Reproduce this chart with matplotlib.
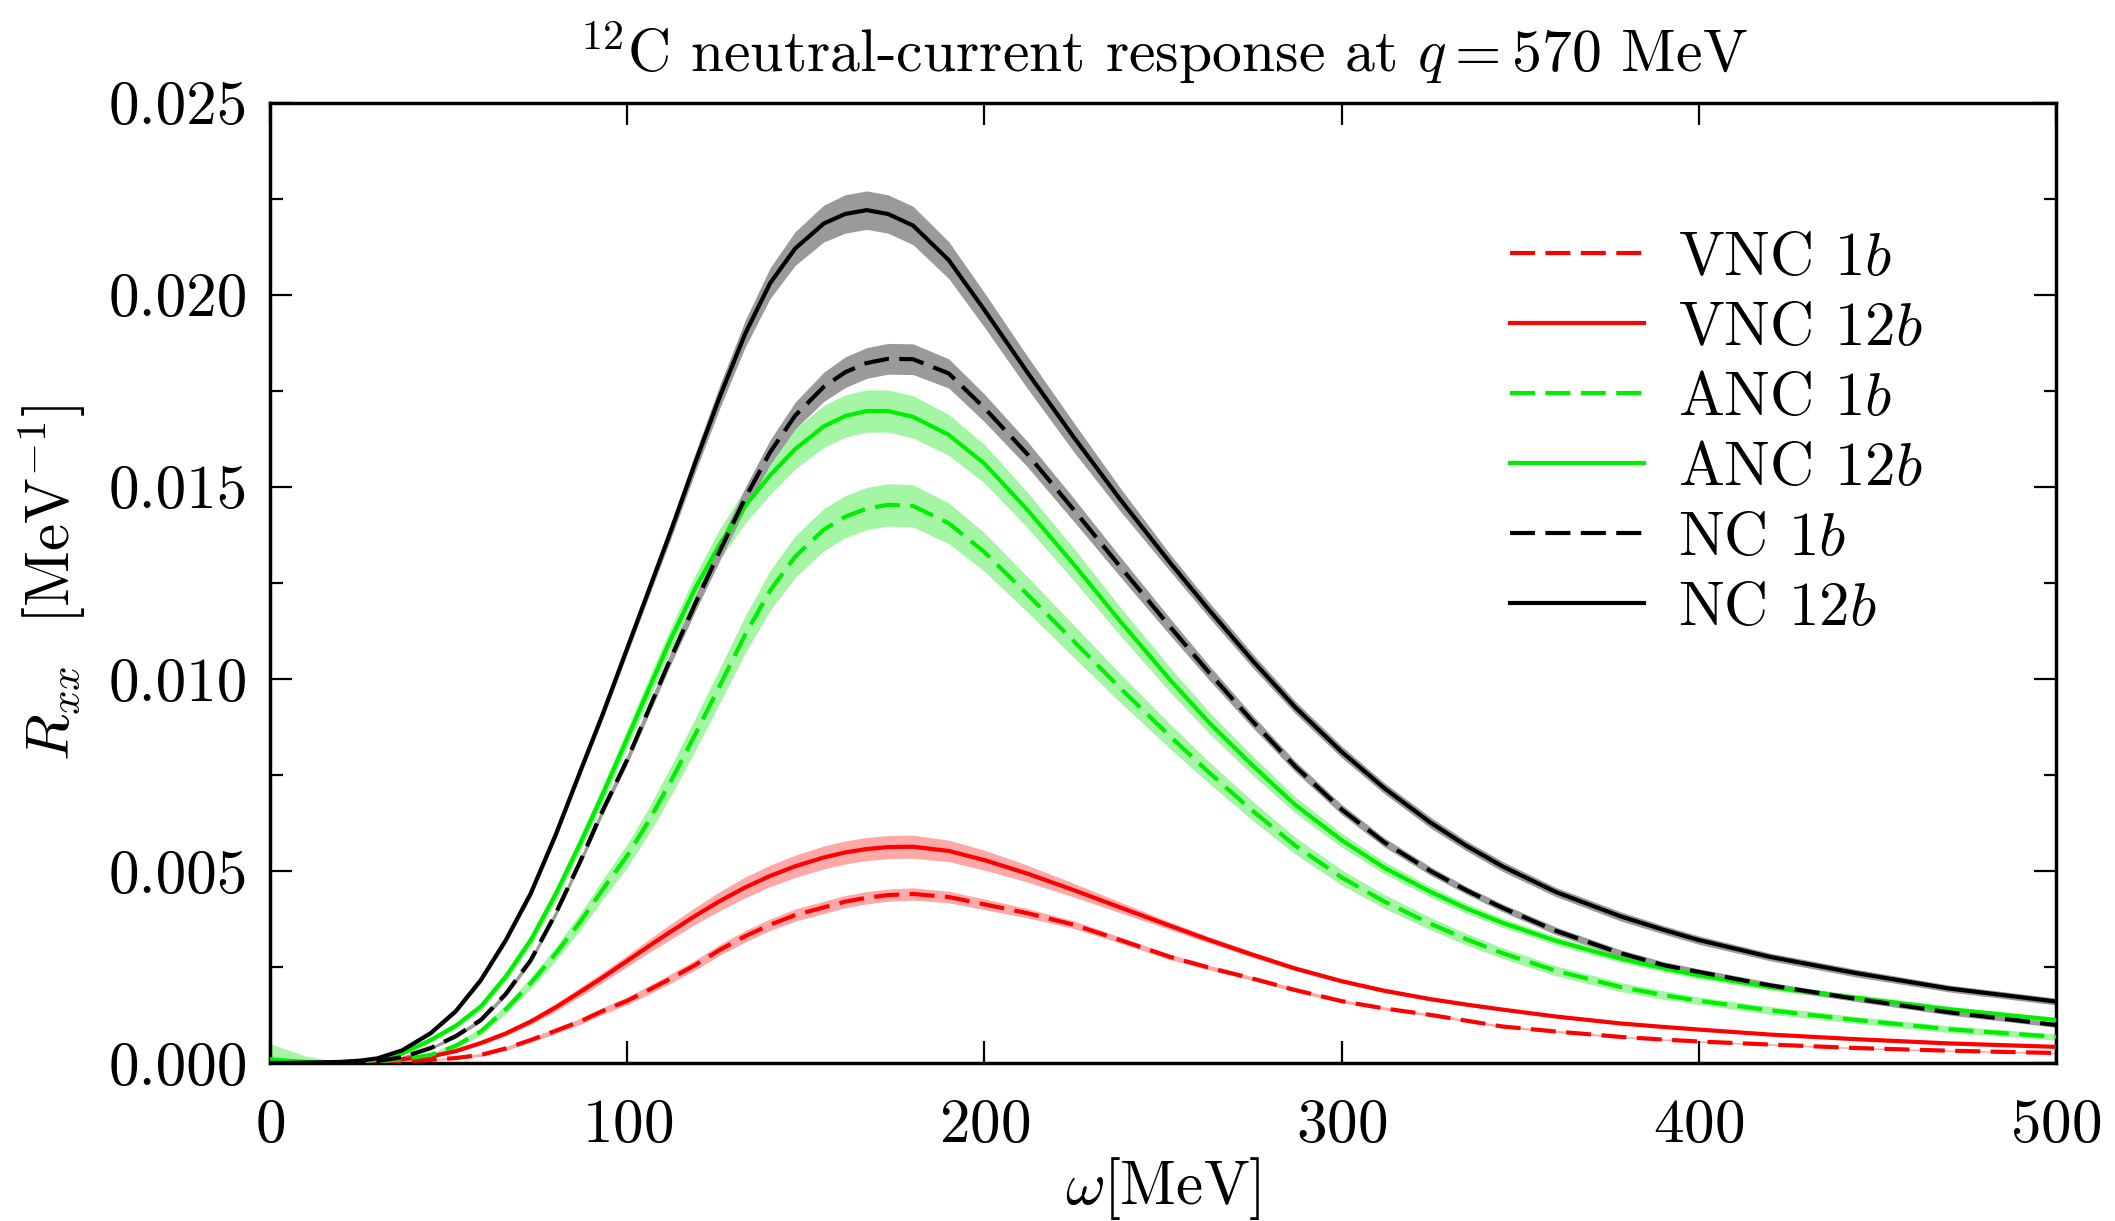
import numpy as np
import matplotlib
matplotlib.use('Agg')
import matplotlib.pyplot as plt
from matplotlib.ticker import MultipleLocator, FormatStrFormatter

plt.rcParams['font.family'] = 'serif'
plt.rcParams['font.serif'] = ['cmr10']
plt.rcParams['mathtext.fontset'] = 'cm'
plt.rcParams['axes.formatter.use_mathtext'] = True

# energy transfer grid [MeV]
omega = [0, 5, 10, 15, 20, 25, 30, 37, 45, 52,
         59, 66, 73, 80, 87, 93, 100, 106, 112, 119,
         126, 133, 140, 147, 155, 161, 167, 173, 180, 190,
         200, 212, 225, 238, 252, 263, 275, 287, 300, 312,
         325, 335, 345, 360, 378, 390, 400, 420, 444, 470,
         500]

# responses, in units of 1e-3 MeV^-1
nc_12b = [0.0, 0.0, 0.01, 0.015, 0.03, 0.06, 0.12, 0.33, 0.78, 1.35,
          2.16, 3.2, 4.42, 5.95, 7.63, 9.05, 10.8, 12.3, 13.8, 15.62,
          17.37, 18.98, 20.3, 21.2, 21.85, 22.1, 22.2, 22.1, 21.8, 20.9,
          19.6, 17.98, 16.29, 14.67, 13.02, 11.78, 10.48, 9.26, 8.1, 7.15,
          6.25, 5.65, 5.12, 4.45, 3.82, 3.47, 3.2, 2.76, 2.34, 1.94,
          1.60]
nc_1b = [0.0, 0.0, 0.0, 0.005, 0.01, 0.025, 0.05, 0.15, 0.39, 0.7,
         1.12, 1.8, 2.68, 3.9, 5.28, 6.55, 7.9, 9.2, 10.5, 11.95,
         13.35, 14.7, 15.9, 16.85, 17.6, 17.98, 18.22, 18.33, 18.32, 17.95,
         17.05, 15.85, 14.4, 12.92, 11.35, 10.15, 8.9, 7.72, 6.6, 5.74,
         4.99, 4.49, 4.04, 3.44, 2.86, 2.55, 2.37, 2.02, 1.67, 1.32,
         0.99]
anc_12b = [0.1, 0.06, 0.03, 0.02, 0.02, 0.04, 0.08, 0.25, 0.60, 0.97,
           1.47, 2.25, 3.2, 4.4, 5.75, 6.97, 8.45, 9.73, 11.0, 12.35,
           13.52, 14.5, 15.3, 15.98, 16.57, 16.84, 16.97, 16.97, 16.82, 16.35,
           15.6, 14.4, 12.98, 11.5, 9.97, 8.85, 7.75, 6.72, 5.8, 5.08,
           4.45, 4.02, 3.65, 3.18, 2.72, 2.47, 2.28, 1.98, 1.7, 1.4,
           1.12]
anc_1b = [0.0, 0.0, 0.0, 0.005, 0.01, 0.02, 0.04, 0.1, 0.21, 0.45,
          0.82, 1.4, 2.08, 2.85, 3.7, 4.5, 5.4, 6.3, 7.3, 8.55,
          9.84, 11.15, 12.3, 13.18, 13.88, 14.22, 14.43, 14.53, 14.5, 14.05,
          13.3, 12.2, 10.98, 9.76, 8.5, 7.55, 6.57, 5.66, 4.83, 4.2,
          3.62, 3.22, 2.86, 2.4, 1.98, 1.77, 1.62, 1.37, 1.12, 0.88,
          0.68]
vnc_12b = [0.0, 0.0, 0.0, 0.01, 0.02, 0.04, 0.06, 0.1, 0.17, 0.31,
           0.52, 0.77, 1.08, 1.45, 1.86, 2.22, 2.66, 3.04, 3.41, 3.83,
           4.22, 4.57, 4.87, 5.12, 5.35, 5.48, 5.57, 5.62, 5.63, 5.52,
           5.28, 4.93, 4.5, 4.05, 3.57, 3.2, 2.82, 2.46, 2.13, 1.88,
           1.66, 1.52, 1.39, 1.21, 1.03, 0.94, 0.87, 0.74, 0.62, 0.51,
           0.42]
vnc_1b = [0.0, 0.0, 0.0, 0.005, 0.01, 0.02, 0.03, 0.05, 0.08, 0.13,
          0.21, 0.38, 0.60, 0.84, 1.09, 1.35, 1.62, 1.9, 2.19, 2.55,
          2.95, 3.3, 3.6, 3.85, 4.05, 4.2, 4.3, 4.37, 4.4, 4.32,
          4.13, 3.9, 3.6, 3.2, 2.76, 2.48, 2.2, 1.9, 1.61, 1.42,
          1.25, 1.1, 0.95, 0.82, 0.68, 0.61, 0.56, 0.48, 0.39, 0.32,
          0.26]

# half-widths of the uncertainty bands, same units
nc_12b_err = [0, 0, 0, 0, 0, 0.01, 0.02, 0.03, 0.05, 0.06,
              0.08, 0.09, 0.1, 0.11, 0.12, 0.13, 0.15, 0.17, 0.2, 0.25,
              0.3, 0.35, 0.4, 0.44, 0.48, 0.5, 0.5, 0.5, 0.5, 0.48,
              0.45, 0.42, 0.38, 0.3, 0.22, 0.2, 0.18, 0.16, 0.15, 0.14,
              0.14, 0.13, 0.13, 0.12, 0.12, 0.11, 0.11, 0.1, 0.1, 0.09,
              0.09]
nc_1b_err = [0, 0, 0, 0, 0, 0.01, 0.02, 0.03, 0.04, 0.05,
             0.06, 0.07, 0.08, 0.09, 0.1, 0.11, 0.12, 0.14, 0.16, 0.2,
             0.25, 0.28, 0.32, 0.35, 0.38, 0.4, 0.4, 0.4, 0.4, 0.38,
             0.36, 0.33, 0.3, 0.26, 0.22, 0.19, 0.16, 0.14, 0.13, 0.12,
             0.11, 0.1, 0.1, 0.1, 0.09, 0.09, 0.08, 0.08, 0.07, 0.07,
             0.06]
anc_12b_err = [0.4, 0.28, 0.15, 0.08, 0.05, 0.04, 0.04, 0.05, 0.06, 0.08,
               0.1, 0.12, 0.15, 0.18, 0.2, 0.22, 0.25, 0.28, 0.3, 0.35,
               0.4, 0.45, 0.5, 0.52, 0.55, 0.55, 0.55, 0.55, 0.55, 0.53,
               0.5, 0.46, 0.42, 0.37, 0.32, 0.28, 0.25, 0.21, 0.18, 0.16,
               0.14, 0.13, 0.12, 0.11, 0.1, 0.1, 0.09, 0.09, 0.08, 0.08,
               0.07]
anc_1b_err = [0, 0, 0, 0, 0, 0.01, 0.02, 0.03, 0.05, 0.07,
              0.1, 0.12, 0.15, 0.18, 0.22, 0.26, 0.3, 0.34, 0.38, 0.42,
              0.45, 0.48, 0.52, 0.54, 0.55, 0.55, 0.55, 0.55, 0.55, 0.53,
              0.5, 0.46, 0.42, 0.37, 0.32, 0.28, 0.25, 0.22, 0.2, 0.18,
              0.16, 0.15, 0.14, 0.13, 0.12, 0.11, 0.1, 0.1, 0.09, 0.09,
              0.08]
vnc_12b_err = [0, 0, 0, 0, 0, 0.01, 0.01, 0.02, 0.03, 0.04,
               0.05, 0.06, 0.08, 0.1, 0.12, 0.13, 0.15, 0.17, 0.2, 0.22,
               0.25, 0.27, 0.28, 0.29, 0.3, 0.3, 0.3, 0.3, 0.3, 0.28,
               0.26, 0.22, 0.18, 0.14, 0.1, 0.08, 0.07, 0.06, 0.05, 0.05,
               0.04, 0.04, 0.03, 0.03, 0.03, 0.03, 0.02, 0.02, 0.02, 0.02,
               0.02]
vnc_1b_err = [0, 0, 0, 0, 0, 0.01, 0.01, 0.01, 0.02, 0.03,
              0.04, 0.05, 0.06, 0.07, 0.08, 0.09, 0.1, 0.11, 0.12, 0.13,
              0.14, 0.15, 0.15, 0.16, 0.16, 0.16, 0.16, 0.16, 0.16, 0.15,
              0.14, 0.12, 0.1, 0.08, 0.07, 0.06, 0.05, 0.05, 0.04, 0.04,
              0.03, 0.03, 0.03, 0.03, 0.02, 0.02, 0.02, 0.02, 0.02, 0.02,
              0.02]

labels = [r'VNC 1$b$', r'VNC 12$b$', r'ANC 1$b$', r'ANC 12$b$', r'NC 1$b$', r'NC 12$b$']
values = [vnc_1b, vnc_12b, anc_1b, anc_12b, nc_1b, nc_12b]
errors = [vnc_1b_err, vnc_12b_err, anc_1b_err, anc_12b_err, nc_1b_err, nc_12b_err]
line_colors = ['#ff0000', '#ff0000', '#00ee00', '#00ee00', 'black', 'black']
band_colors = ['#ffa8a8', '#ffa8a8', '#a4f5a4', '#a4f5a4', '#9a9a9a', '#9a9a9a']
dashed = [True, False, True, False, True, False]

w = np.array(omega)

fig = plt.figure(figsize=(21.15, 12.21), dpi=100)
ax = fig.add_axes([0.1277, 0.1294, 0.8444, 0.7866])

for y, e, c in zip(values, errors, band_colors):
    y = np.array(y) * 1e-3
    e = np.array(e) * 1e-3
    ax.fill_between(w, y - e, y + e, color=c, lw=0, zorder=1)

for y, c, lab, d in zip(values, line_colors, labels, dashed):
    y = np.array(y) * 1e-3
    ls = (0, (6.0, 2.5)) if d else '-'
    ax.plot(w, y, color=c, lw=3.0, ls=ls, label=lab, zorder=3,
            solid_joinstyle='round', dash_joinstyle='round')

ax.set_xlim(0, 500)
ax.set_ylim(0, 0.025)
ax.xaxis.set_major_locator(MultipleLocator(100))
ax.yaxis.set_major_locator(MultipleLocator(0.005))
ax.yaxis.set_minor_locator(MultipleLocator(0.0025))
ax.yaxis.set_major_formatter(FormatStrFormatter('%.3f'))

ax.tick_params(which='both', direction='in', top=True, right=True, labelsize=44)
ax.tick_params(axis='x', which='major', length=16, width=1.6, pad=26)
ax.tick_params(axis='y', which='major', length=16, width=1.6, pad=16)
ax.tick_params(axis='y', which='minor', length=9, width=1.6)
for sp in ax.spines.values():
    sp.set_linewidth(2.5)

ax.set_xlabel(r'$\omega$[MeV]', fontsize=44)
ax.set_ylabel(r'$R_{xx}\ $ [MeV$^{-1}$]', fontsize=44)
ax.xaxis.set_label_coords(0.5, -0.096)
ax.yaxis.set_label_coords(-0.102, 0.5)
ax.set_title(r'$^{12}$C neutral-current response at $q=570$ MeV', fontsize=43, pad=22)

ax.legend(loc='upper left', bbox_to_anchor=(0.694, 0.866), frameon=False, fontsize=44,
          handlelength=2.2, handletextpad=0.55, labelspacing=0.24, borderpad=0, borderaxespad=0)

fig.savefig('out.png', dpi=100)
